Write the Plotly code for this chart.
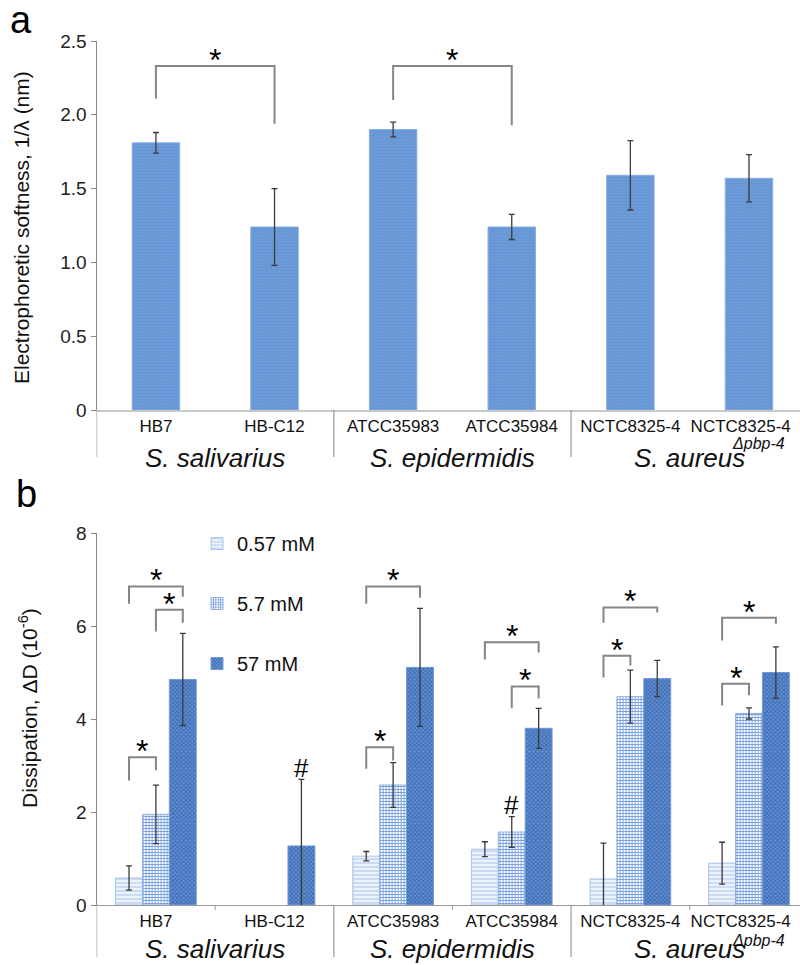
import plotly.graph_objects as go

# ---------------- data ----------------
categories = ["HB7", "HB-C12", "ATCC35983", "ATCC35984", "NCTC8325-4", "NCTC8325-4"]
species = ["S. salivarius", "S. epidermidis", "S. aureus"]
species_centers = [0.5, 2.5, 4.5]

softness = [1.81, 1.24, 1.90, 1.24, 1.59, 1.57]
softness_err = [0.07, 0.26, 0.05, 0.085, 0.235, 0.16]

series_names = ["0.57 mM", "5.7 mM", "57 mM"]
diss_057 = [0.58, None, 1.05, 1.20, 0.56, 0.90]
diss_057_err = [0.26, None, 0.10, 0.16, 0.77, 0.45]
diss_57 = [1.95, None, 2.58, 1.57, 4.48, 4.12]
diss_57_err = [0.63, None, 0.48, 0.33, 0.57, 0.12]
diss_570 = [4.85, 1.27, 5.11, 3.80, 4.87, 5.00]
diss_570_err = [0.99, 1.43, 1.27, 0.43, 0.39, 0.55]

# significance brackets: (cat_left, cat_right, y_horizontal, y_left_end, y_right_end)
brackets_a = [(0, 1, 2.33, 2.11, 1.94), (2, 3, 2.33, 2.10, 1.93)]
# panel b: (category, series_left, series_right, y_horizontal, y_left_end, y_right_end)
brackets_b = [
    (0, 0, 2, 6.85, 6.48, 6.63), (0, 1, 2, 6.35, 5.88, 6.07), (0, 0, 1, 3.18, 2.68, 2.90),
    (2, 0, 2, 6.85, 6.48, 6.61), (2, 0, 1, 3.39, 2.93, 3.11),
    (3, 0, 2, 5.65, 5.28, 5.43), (3, 1, 2, 4.70, 4.23, 4.44),
    (4, 0, 2, 6.40, 6.07, 6.29), (4, 0, 1, 5.36, 4.89, 5.15),
    (5, 0, 2, 6.18, 5.69, 6.05), (5, 0, 1, 4.76, 4.29, 4.51),
]
# '#' marks: (category, series, y)
hash_marks = [(1, 2, 2.94), (3, 1, 2.15)]

# ---------------- geometry ----------------
W, H = 800, 965
def py(p):
    return 1 - p / H

XR = [-0.5, 5.43]
XDOM = [96.6 / W, 1.0]
YDOM_A = [py(410), py(41)]
YDOM_B = [py(905), py(533)]
BARGAP = 0.32
BW = (1 - BARGAP) / 3
xs = list(range(len(categories)))
label_pos = [float(i) for i in xs]
label_pos[-1] -= 0.07  # last label nudged left to stay inside the page

BRACKET = dict(color="#858585", width=2)
FONT = "Liberation Sans, Arial, sans-serif"

fig = go.Figure()

# panel a
fig.add_trace(go.Bar(
    x=xs, y=softness, width=0.4, xaxis="x", yaxis="y", showlegend=False,
    marker=dict(color="#6b9bd8", line=dict(color="#86aee2", width=1),
                pattern=dict(shape=".", fgcolor="#5f8fd0", bgcolor="#6d9dd9", size=3, solidity=0.3)),
    error_y=dict(type="data", array=softness_err, color="#3a3a3a", thickness=1.3, width=3),
))

# panel b
styles = [
    dict(color="#e4edf9", line=dict(color="#a9c3ea", width=1),
         pattern=dict(shape="-", fgcolor="#b4cbee", bgcolor="#edf3fc", size=4, solidity=0.3)),
    dict(color="#c9daf3", line=dict(color="#8fb0e3", width=1),
         pattern=dict(shape="+", fgcolor="#6f99da", bgcolor="#ffffff", size=3, solidity=0.5)),
    dict(color="#5584c8", line=dict(color="#6f9ad8", width=1),
         pattern=dict(shape="x", fgcolor="#3b69b2", bgcolor="#6592d3", size=3, solidity=0.5)),
]
for name, vals, errs, st in zip(series_names, [diss_057, diss_57, diss_570],
                                [diss_057_err, diss_57_err, diss_570_err], styles):
    fig.add_trace(go.Bar(
        x=xs, y=vals, name=name, xaxis="x2", yaxis="y2", legendgroup=name,
        marker=st,
        error_y=dict(type="data", array=errs, color="#3a3a3a", thickness=1.3, width=3),
    ))

shapes = []
annotations = []

def bracket(xref, yref, x1, x2, yh, yl, yr):
    shapes.append(dict(type="path", xref=xref, yref=yref,
                       path=f"M {x1},{yl} L {x1},{yh} L {x2},{yh} L {x2},{yr}",
                       line=BRACKET))

def star(xref, yref, x, y):
    annotations.append(dict(xref=xref, yref=yref, x=x, y=y, text="*", showarrow=False,
                            font=dict(size=32, color="black", family=FONT),
                            xanchor="center", yanchor="bottom", yshift=-14))

for cl, cr, yh, yl, yr in brackets_a:
    bracket("x", "y", cl, cr, yh, yl, yr)
    star("x", "y", (cl + cr) / 2, yh)

for c, s1, s2, yh, yl, yr in brackets_b:
    x1 = c + (s1 - 1) * BW
    x2 = c + (s2 - 1) * BW
    bracket("x2", "y2", x1, x2, yh, yl, yr)
    star("x2", "y2", (x1 + x2) / 2, yh)

for c, s, y in hash_marks:
    annotations.append(dict(xref="x2", yref="y2", x=c + (s - 1) * BW, y=y, text="#",
                            showarrow=False, font=dict(size=26, color="black", family=FONT),
                            xanchor="center", yanchor="middle"))

# group separators and species labels
for dom_bottom, xref, depth, lab_off, sub_off in [(410, "x", 47, 48, 33), (905, "x2", 52, 44, 35)]:
    for xb in [-0.5, 1.5, 3.5]:
        shapes.append(dict(type="line", xref=xref, yref="paper", x0=xb, x1=xb,
                           y0=py(dom_bottom), y1=py(dom_bottom + depth),
                           line=dict(color="#9a9a9a", width=1.2)))
    for sp, cx in zip(species, species_centers):
        annotations.append(dict(xref=xref, yref="paper", x=cx, y=py(dom_bottom + lab_off),
                                text=f"<i>{sp}</i>", showarrow=False,
                                xanchor="center", yanchor="middle",
                                font=dict(size=26, color="#111", family=FONT)))
    annotations.append(dict(xref=xref, yref="paper", x=5.08, y=py(dom_bottom + sub_off),
                            text="<i>Δpbp-4</i>", showarrow=False,
                            xanchor="center", yanchor="middle",
                            font=dict(size=16, color="#111", family=FONT)))

for xb in [0.5, 2.5, 4.5]:
    shapes.append(dict(type="line", xref="x2", yref="paper", x0=xb, x1=xb,
                       y0=py(905), y1=py(910), line=dict(color="#9a9a9a", width=1)))

# y titles and panel letters
annotations += [
    dict(xref="paper", yref="paper", x=22 / W, y=py(228), text="Electrophoretic softness, 1/λ (nm)",
         textangle=-90, showarrow=False, xanchor="center", yanchor="middle",
         font=dict(size=21, color="#111", family=FONT)),
    dict(xref="paper", yref="paper", x=28 / W, y=py(708), text="Dissipation, ΔD (10<sup>-6</sup>)",
         textangle=-90, showarrow=False, xanchor="center", yanchor="middle",
         font=dict(size=21, color="#111", family=FONT)),
    dict(xref="paper", yref="paper", x=21 / W, y=py(20), text="a", showarrow=False,
         xanchor="center", yanchor="middle", font=dict(size=38, color="black", family=FONT)),
    dict(xref="paper", yref="paper", x=26 / W, y=py(494), text="b", showarrow=False,
         xanchor="center", yanchor="middle", font=dict(size=38, color="black", family=FONT)),
]

xcommon = dict(range=XR, domain=XDOM, tickmode="array", tickvals=label_pos, ticktext=categories,
               showgrid=False, zeroline=False, ticks="", showline=True, automargin=False,
               tickfont=dict(size=17, color="#111", family=FONT))
ycommon = dict(showgrid=False, zeroline=False, showline=True, linecolor="#8a8a8a", linewidth=1.2,
               ticks="outside", ticklen=5, tickcolor="#8a8a8a", automargin=False,
               tickfont=dict(size=19, color="#222", family=FONT))

fig.update_layout(
    template="none",
    width=W, height=H, margin=dict(l=0, r=0, t=0, b=0, pad=0, autoexpand=False),
    paper_bgcolor="white", plot_bgcolor="white",
    font=dict(family=FONT),
    barmode="group", bargap=BARGAP, bargroupgap=0,
    xaxis=dict(**xcommon, anchor="y", linecolor="#c8c8c8", linewidth=1.5),
    xaxis2=dict(**xcommon, anchor="y2", linecolor="#9a9a9a", linewidth=1.2),
    yaxis=dict(**ycommon, domain=YDOM_A, anchor="x", range=[0, 2.5],
               tickvals=[0, 0.5, 1.0, 1.5, 2.0, 2.5],
               ticktext=["0", "0.5", "1.0", "1.5", "2.0", "2.5"]),
    yaxis2=dict(**ycommon, domain=YDOM_B, anchor="x2", range=[0, 8],
                tickvals=[0, 2, 4, 6, 8]),
    legend=dict(x=197 / W, y=py(524), xanchor="left", yanchor="top",
                font=dict(size=20, color="#111", family=FONT),
                tracegroupgap=31, bgcolor="rgba(0,0,0,0)"),
    shapes=shapes, annotations=annotations,
)

fig.write_html("out.html", config={"displayModeBar": False},
               post_script="document.body.style.margin='0';document.body.style.overflow='hidden';")
